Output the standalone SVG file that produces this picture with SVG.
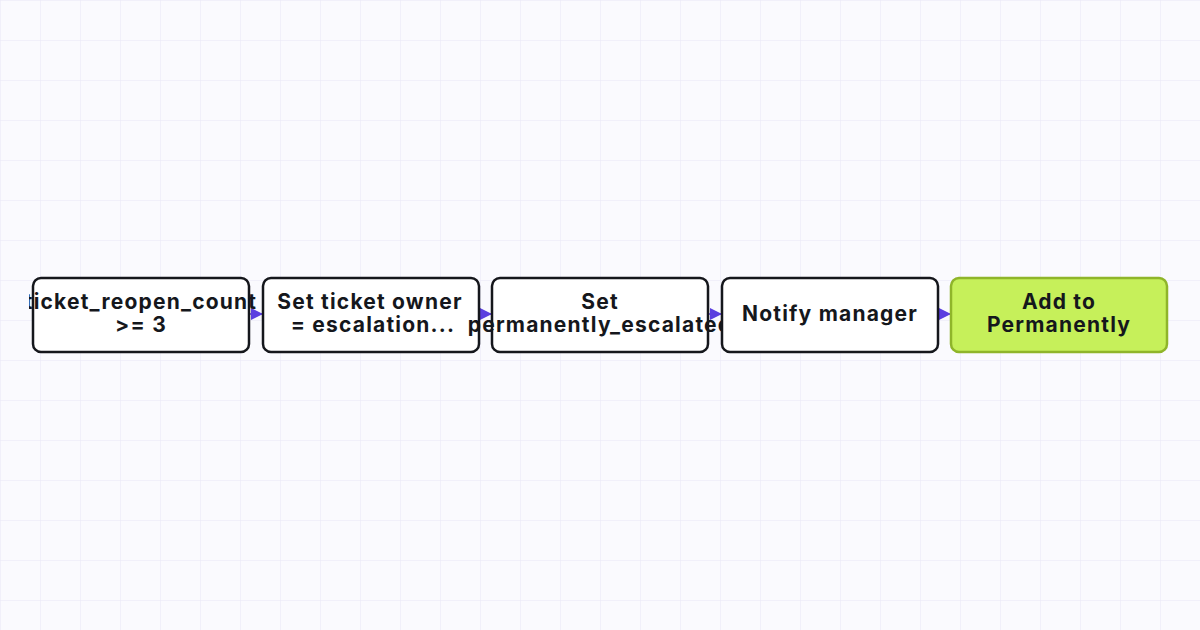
<svg xmlns="http://www.w3.org/2000/svg" width="1200" height="630" viewBox="0 0 1200 630">
<defs>
<pattern id="g" width="40" height="40" patternUnits="userSpaceOnUse"><path d="M40 0H0V40" fill="none" stroke="#e8e6f5" stroke-width="1"/></pattern>
<marker id="a" viewBox="0 0 10 10" refX="10" refY="5" markerWidth="12" markerHeight="12" markerUnits="userSpaceOnUse" orient="auto"><path d="M0 0L10 5L0 10z" fill="#5b3fe0"/></marker>
<clipPath id="k1"><rect x="29" y="278" width="236" height="74"/></clipPath>
<clipPath id="k3"><rect x="462" y="278" width="260" height="74"/></clipPath>
</defs>
<style>
.n{fill:#fff;stroke:#15171c;stroke-width:2.5}
.e{fill:#c6f05a;stroke:#8fb52a;stroke-width:2.5}
text{font-family:Inter,"Noto Sans",sans-serif;font-weight:700;font-size:21px;letter-spacing:1.2px;fill:#15171c;text-anchor:middle}
.c{stroke:#5b3fe0;stroke-width:1.5;fill:none}
</style>
<rect width="1200" height="630" fill="#fafafe"/>
<rect width="1200" height="630" fill="url(#g)"/>
<g id="connectors">
<path class="c" d="M249 314H263" marker-end="url(#a)"/>
<path class="c" d="M479 314H492" marker-end="url(#a)"/>
<path class="c" d="M708 314H722" marker-end="url(#a)"/>
<path class="c" d="M938 314H951" marker-end="url(#a)"/>
</g>
<g id="n1"><rect class="n" x="33" y="278" width="216" height="74" rx="8"/><text x="141" y="309" clip-path="url(#k1)">ticket_reopen_count</text><text x="141" y="332">&gt;= 3</text></g>
<g id="n2"><rect class="n" x="263" y="278" width="216" height="74" rx="8"/><text x="370" y="309">Set ticket owner</text><text x="373" y="332">= escalation...</text></g>
<g id="n3"><rect class="n" x="492" y="278" width="216" height="74" rx="8"/><text x="600" y="309">Set</text><text x="600" y="332" clip-path="url(#k3)">permanently_escalated</text></g>
<g id="n4"><rect class="n" x="722" y="278" width="216" height="74" rx="8"/><text x="830" y="321">Notify manager</text></g>
<g id="n5"><rect class="e" x="951" y="278" width="216" height="74" rx="8"/><text x="1059" y="309">Add to</text><text x="1059" y="332">Permanently</text></g>
</svg>
